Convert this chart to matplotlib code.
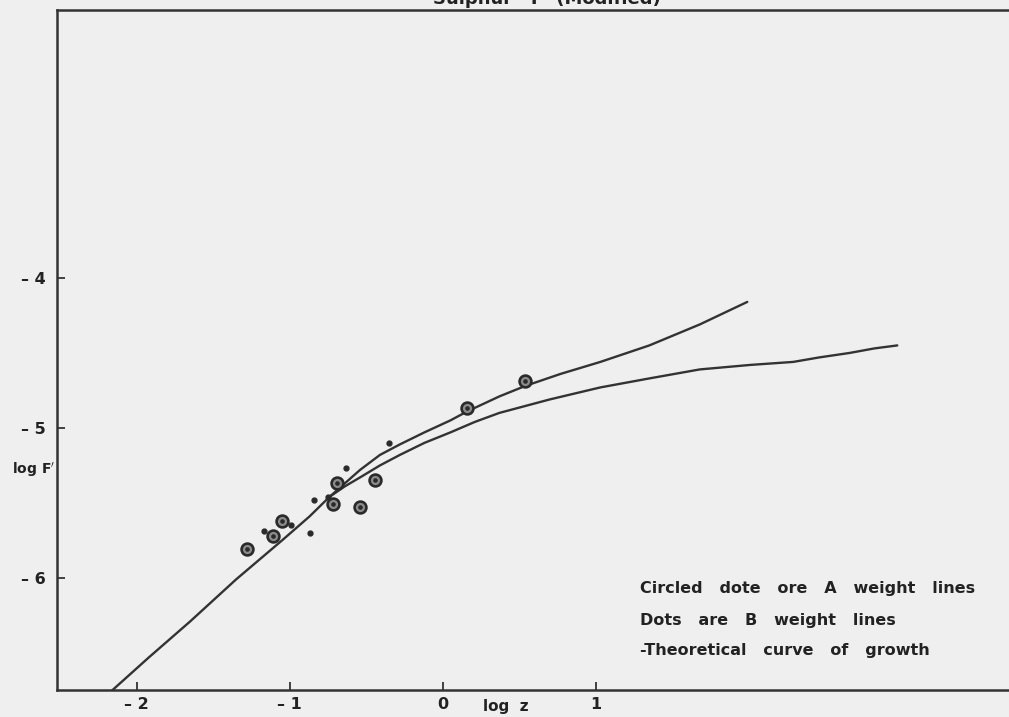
import matplotlib
matplotlib.use("Agg")
import matplotlib.pyplot as plt

# curve of growth, shared lower branch then two upper branches
common_x = [-2.16, -1.92, -1.65, -1.35, -1.05, -0.87, -0.74]
common_y = [-6.75, -6.53, -6.29, -6.01, -5.75, -5.59, -5.46]

upper_x = [-0.74, -0.64, -0.54, -0.41, -0.28, -0.12, 0.05, 0.16, 0.37, 0.54,
           0.77, 1.03, 1.35, 1.68, 1.99]
upper_y = [-5.46, -5.37, -5.28, -5.18, -5.11, -5.03, -4.95, -4.89, -4.79, -4.72,
           -4.64, -4.56, -4.45, -4.31, -4.16]

lower_x = [-0.74, -0.64, -0.54, -0.41, -0.28, -0.12, 0.05, 0.21, 0.37, 0.70,
           1.03, 1.35, 1.68, 2.01, 2.29, 2.46, 2.66, 2.82, 2.97]
lower_y = [-5.46, -5.39, -5.33, -5.25, -5.18, -5.10, -5.03, -4.96, -4.90, -4.81,
           -4.73, -4.67, -4.61, -4.58, -4.56, -4.53, -4.50, -4.47, -4.45]

# A weight lines (circled dots)
a_x = [-1.28, -1.11, -1.05, -0.72, -0.69, -0.54, -0.44, 0.16, 0.54]
a_y = [-5.81, -5.72, -5.62, -5.51, -5.37, -5.53, -5.35, -4.87, -4.69]

# B weight lines (dots)
b_x = [-1.17, -0.99, -0.87, -0.84, -0.75, -0.63, -0.35]
b_y = [-5.69, -5.65, -5.70, -5.48, -5.46, -5.27, -5.10]

x_ticks = [-2, -1, 0, 1]
x_labels = ["– 2", "– 1", "0", "1"]
y_ticks = [-4, -5, -6]
y_labels = ["– 4", "– 5", "– 6"]

notes = ["Circled   dote   ore   A   weight   lines",
         "Dots   are   B   weight   lines",
         "-Theoretical   curve   of   growth"]

bg = "#efefef"
ink = "#333333"
txt = "#222222"
plt.rcParams['font.family'] = ['DejaVu Sans']

fig = plt.figure(figsize=(10.09, 7.17), dpi=100, facecolor=bg)
ax = fig.add_axes([0.0565, 0.0377, 0.9435, 0.9477])
ax.set_facecolor(bg)

for xs, ys in [(common_x, common_y), (upper_x, upper_y), (lower_x, lower_y)]:
    ax.plot(xs, ys, color=ink, lw=1.7, solid_capstyle='round',
            solid_joinstyle='round')

ax.plot(a_x, a_y, 'o', ms=8.5, mfc='#8c8c8c', mec='#2a2a2a', mew=1.9, ls='none')
ax.plot(a_x, a_y, 'o', ms=2.3, color='#2a2a2a', ls='none')
ax.plot(b_x, b_y, 'o', ms=3.5, color='#2a2a2a', ls='none')

ax.set_xlim(-2.52, 3.70)
ax.set_ylim(-6.747, -2.217)

ax.set_xticks(x_ticks)
ax.set_xticklabels(x_labels, fontweight='bold')
ax.set_yticks(y_ticks)
ax.set_yticklabels(y_labels, fontweight='bold')
ax.tick_params(direction='in', length=6, width=1.3, color=ink, labelsize=11.5,
               labelcolor=txt)
ax.tick_params(axis='x', pad=5)
ax.tick_params(axis='y', pad=8)

for s in ['left', 'bottom', 'top']:
    ax.spines[s].set_color(ink)
    ax.spines[s].set_linewidth(1.8)
ax.spines['right'].set_visible(False)

fig.text(506 / 1009, 1 - 706 / 717, "log  z", ha='center', va='center',
         fontsize=11, fontweight='bold', color=txt)
fig.text(12 / 1009, 1 - 470 / 717, r"log F$^{\prime}$", ha='left', va='center',
         fontsize=10, fontweight='bold', color=txt)

# title sits mostly above the top edge, as in the scanned original
fig.text(547 / 1009, 1 - 4.5 / 717, "Sulphur   I   (Modified)", ha='center',
         va='baseline', fontsize=13, fontweight='bold', color=txt)

for i, t in enumerate(notes):
    fig.text(640 / 1009, 1 - (589 + 31 * i) / 717, t, ha='left', va='center',
             fontsize=11.5, fontweight='bold', color=txt)

fig.savefig("out.png", dpi=100, facecolor=bg)
